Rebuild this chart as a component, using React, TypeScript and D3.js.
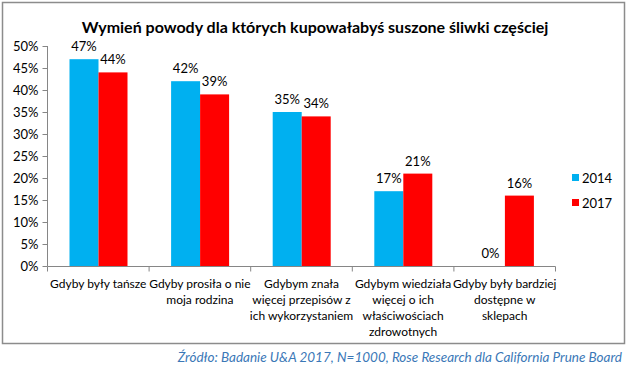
import { useRef, useEffect } from 'react';
import * as d3 from 'd3';

const categories = ['c1', 'c2', 'c3', 'c4', 'c5'];
const categoryLabels = [
  ['Gdyby były tańsze'],
  ['Gdyby prosiła o nie', 'moja rodzina'],
  ['Gdybym znała', 'więcej przepisów z', 'ich wykorzystaniem'],
  ['Gdybym wiedziała', 'więcej o ich', 'właściwościach', 'zdrowotnych'],
  ['Gdyby były bardziej', 'dostępne w', 'sklepach'],
];
const series = ['2014', '2017'];
const values2014 = [47, 42, 35, 17, 0];
const values2017 = [44, 39, 34, 21, 16];
const colors = ['#00b0f0', '#ff0000'];
const yTicks = [0, 5, 10, 15, 20, 25, 30, 35, 40, 45, 50];

const FONT = 'Lato, "Noto Sans", sans-serif';

export default function App() {
  const svgRef = useRef<SVGSVGElement>(null);

  useEffect(() => {
    document.body.style.margin = '0';
    const w = 628;
    const h = 371;
    const svg = d3.select(svgRef.current)
      .attr('width', w)
      .attr('height', h)
      .style('display', 'block')
      .style('background', '#fff');
    svg.selectAll('*').remove();

    // outer frame
    svg.append('rect')
      .attr('x', 2.5).attr('y', 2.5)
      .attr('width', 622).attr('height', 341)
      .attr('fill', '#fff')
      .attr('stroke', '#8c8c8c')
      .attr('stroke-width', 1.5);

    svg.append('text')
      .attr('x', 315).attr('y', 33)
      .attr('text-anchor', 'middle')
      .style('font-family', FONT)
      .style('font-weight', 'bold')
      .style('font-size', '16px')
      .text('Wymień powody dla których kupowałabyś suszone śliwki częściej');

    const x0 = d3.scaleBand().domain(categories).range([47.5, 555.5]);
    const x1 = d3.scaleBand().domain(series).range([22, 80]);
    const y = d3.scaleLinear().domain([0, 50]).range([266, 46]);

    const yAxis = d3.axisLeft(y)
      .tickValues(yTicks)
      .tickSize(5)
      .tickFormat(d => d + '%');
    const gy = svg.append('g')
      .attr('transform', 'translate(47.5,0)')
      .call(yAxis);
    gy.selectAll('path, line').attr('stroke', '#868686');
    gy.select('.domain').attr('d', 'M0,46V266');
    gy.selectAll('text')
      .attr('x', -9)
      .style('font-family', FONT)
      .style('font-size', '13px')
      .attr('fill', '#000');

    const xAxis = d3.axisBottom(x0).tickSize(0).tickFormat(() => '');
    const gx = svg.append('g')
      .attr('transform', 'translate(0,266.5)')
      .call(xAxis);
    gx.select('.domain').attr('stroke', '#868686').attr('d', 'M47.5,0H555.5');
    const bounds = [...categories.map(c => x0(c)!), x0.range()[1]];
    gx.selectAll('.bound')
      .data(bounds)
      .join('line')
      .attr('x1', d => d).attr('x2', d => d)
      .attr('y1', 0).attr('y2', 5)
      .attr('stroke', '#868686');

    const labelG = svg.append('g');
    categories.forEach((c, i) => {
      const t = labelG.append('text')
        .attr('x', x0(c)! + x0.bandwidth() / 2)
        .attr('y', 288)
        .attr('text-anchor', 'middle')
        .style('font-family', FONT)
        .style('font-size', '12px');
      categoryLabels[i].forEach((line, j) => {
        t.append('tspan')
          .attr('x', x0(c)! + x0.bandwidth() / 2)
          .attr('dy', j === 0 ? 0 : 16)
          .text(line);
      });
    });

    const data = [values2014, values2017];
    series.forEach((s, si) => {
      const g = svg.append('g');
      g.selectAll('rect')
        .data(data[si])
        .join('rect')
        .attr('x', (d, i) => x0(categories[i])! + x1(s)!)
        .attr('y', d => y(d))
        .attr('width', x1.bandwidth())
        .attr('height', d => y(0) - y(d))
        .attr('fill', colors[si]);
      g.selectAll('text')
        .data(data[si])
        .join('text')
        .attr('x', (d, i) => x0(categories[i])! + x1(s)! + x1.bandwidth() / 2)
        .attr('y', d => y(d) - 8)
        .attr('text-anchor', 'middle')
        .style('font-family', FONT)
        .style('font-size', '13px')
        .text(d => d + '%');
    });

    const legend = svg.append('g').attr('transform', 'translate(572,174)');
    series.forEach((s, i) => {
      const row = legend.append('g').attr('transform', `translate(0,${i * 25})`);
      row.append('rect').attr('width', 7).attr('height', 7).attr('fill', colors[i]);
      row.append('text')
        .attr('x', 10).attr('y', 4)
        .attr('dominant-baseline', 'central')
        .style('font-family', FONT)
        .style('font-size', '13px')
        .text(s);
    });

    svg.append('text')
      .attr('x', 622).attr('y', 362)
      .attr('text-anchor', 'end')
      .style('font-family', FONT)
      .style('font-style', 'italic')
      .style('font-size', '13.5px')
      .attr('fill', '#3b78b7')
      .text('Źródło: Badanie U&A 2017, N=1000,  Rose Research dla California  Prune Board');
  }, []);

  return <svg ref={svgRef}></svg>;
}
